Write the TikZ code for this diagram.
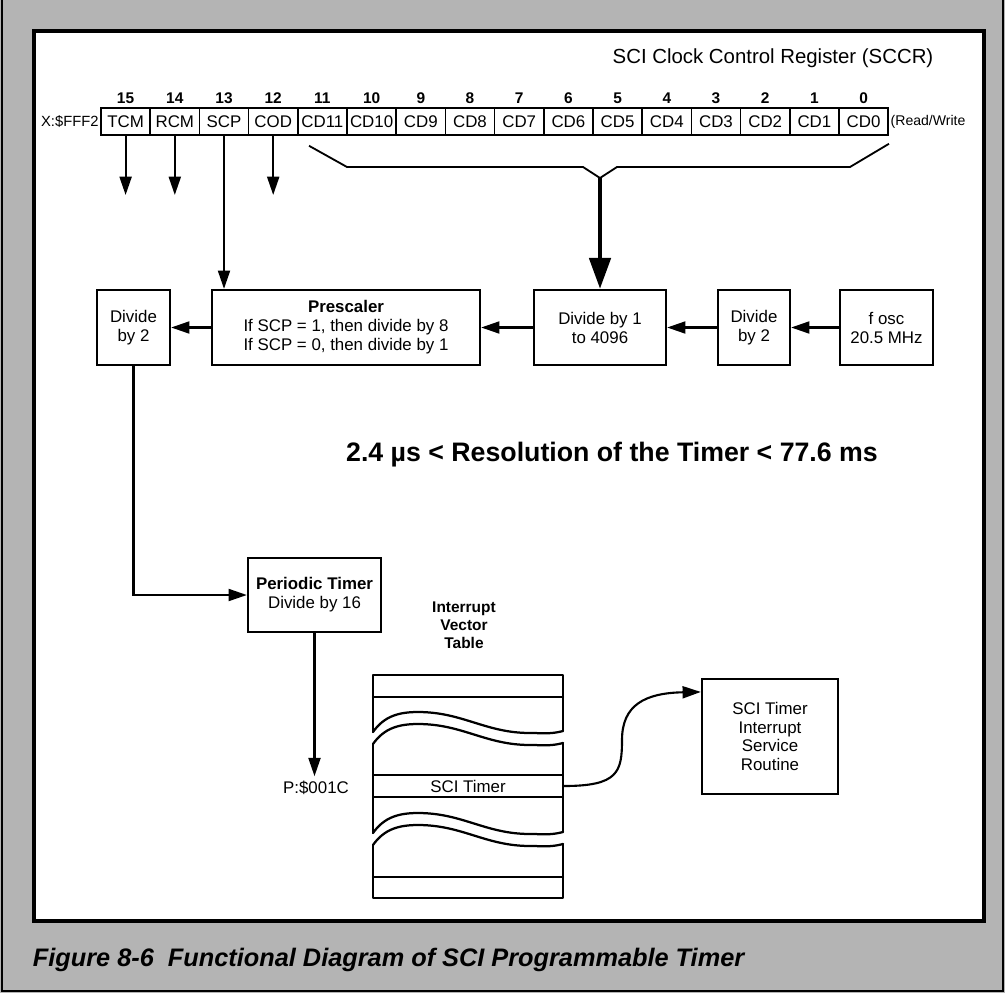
\documentclass[tikz,border=0pt]{standalone}
\usepackage{fontspec}
\setmainfont{Liberation Sans}
\usetikzlibrary{arrows.meta, positioning, calc}
\definecolor{framegray}{RGB}{180,180,180}

\begin{document}
\begin{tikzpicture}[
    x=0.025cm, y=-0.025cm,
    node distance=2pt,
    regbit/.style={draw, line width=1.1pt, minimum width=1.23cm, minimum height=0.675cm, inner sep=0pt, font=\fontsize{12}{14}\selectfont},
    bitnum/.style={inner sep=0pt, anchor=base, font=\bfseries\fontsize{11}{13}\selectfont},
    blk/.style={draw, line width=1.6pt, minimum height=1.875cm, align=center, inner sep=1pt, font=\fontsize{12}{13.5}\selectfont},
    arr/.style={line width=1.5pt, -{Triangle[length=13pt,width=8.5pt]}},
    bigarr/.style={line width=3.2pt, -{Triangle[length=22pt,width=15pt]}},
    vtab/.style={line width=1.6pt, line join=round, line cap=round},
    vwave/.pic={\draw[vtab] (373,20) to[out=55,in=180] (418,0) to[out=0,in=180] (530,21) to[out=0,in=195] (563,19);},
]
    \useasboundingbox (0,0) rectangle (1005,993);
    % page frame
    \fill[framegray] (0,0) rectangle (1005,993);
    \draw[line width=1.5pt] (2,0) -- (2,991) -- (1003,991) -- (1003,0);
    \filldraw[fill=white, line width=2.4pt] (34,31) rectangle (984,921);

    % SCCR register
    \node[anchor=base] (sccr) at (773,63) {\fontsize{14.5}{16}\selectfont SCI Clock Control Register (SCCR)};
    \foreach \lbl [count=\k from 0] in {TCM,RCM,SCP,COD,CD11,CD10,CD9,CD8,CD7,CD6,CD5,CD4,CD3,CD2,CD1,CD0} {
        \pgfmathtruncatemacro{\bit}{15-\k}
        \node[regbit] (b\bit) at ({125.6+49.2*\k},121.5) {\lbl};
        \node[bitnum] at ($(b\bit.north)+(0,-4)$) {\bit};
    }
    \node[left=1pt of b15, inner sep=0pt, font=\fontsize{10.5}{12}\selectfont] (addr) {X:\$FFF2};
    \node[right=1pt of b0, inner sep=0pt, font=\fontsize{10}{12}\selectfont] (rw) {(Read/Write};

    \coordinate (ctlout) at (0,195);
    \foreach \b in {15,14,12} \draw[arr] (b\b.south) -- (b\b.south |- ctlout);

    \coordinate (brtip) at (600,178);
    \draw[line width=1.3pt, line join=round] ($(b11.south west)+(12,10)$) -- (347,167) -- (583,167) -- (brtip) -- (617,167) -- (850,167) -- ($(b0.south east)+(0,8)$);

    % clock chain
    \node[blk, minimum width=2.325cm] (fosc) at (886.5,327.5) {f osc\\20.5 MHz};
    \node[blk, minimum width=1.8cm] (div2r) at (754,327.5) {Divide\\by 2};
    \node[blk, minimum width=3.3cm] (divn) at (600,327.5) {Divide by 1\\to 4096};
    \node[blk, minimum width=6.7cm] (presc) at (346,327.5) {\textbf{Prescaler}\\If SCP = 1, then divide by 8\\If SCP = 0, then divide by 1};
    \node[blk, minimum width=1.825cm] (div2l) at (133.5,327.5) {Divide\\by 2};

    \draw[bigarr] (brtip) -- (divn.north);
    \draw[arr] (b13.south) -- (b13.south |- presc.north);
    \draw[arr] (fosc) -- (div2r);
    \draw[arr] (div2r) -- (divn);
    \draw[arr] (divn) -- (presc);
    \draw[arr] (presc) -- (div2l);

    \node[font=\bfseries\fontsize{19}{22}\selectfont] (res) at (612,455) {2.4 µs < Resolution of the Timer < 77.6 ms};

    % periodic timer
    \node[blk, minimum width=3.325cm, minimum height=1.85cm] (ptimer) at (314.5,595) {\textbf{Periodic Timer}\\Divide by 16};
    \draw[arr] (div2l.south) |- (ptimer.west);
    \node[font=\fontsize{12}{14}\selectfont] (pvec) at (316,788) {P:\$001C};
    \draw[arr] (ptimer.south) -- (ptimer.south |- pvec.north);

    % interrupt vector table
    \node[font=\bfseries\fontsize{11}{12.8}\selectfont, align=center] (vhead) at (464,625) {Interrupt\\Vector\\Table};
    \draw[vtab] (373,732) -- (373,675) -- (563,675) -- (563,731);
    \draw[vtab] (373,697) -- (563,697);
    \pic at (0,712) {vwave};
    \pic at (0,724) {vwave};
    \draw[vtab] (373,744) -- (373,833);
    \draw[vtab] (563,743) -- (563,832);
    \node[draw, line width=1.6pt, minimum width=4.75cm, minimum height=0.55cm, inner sep=0pt, font=\fontsize{12}{14}\selectfont] (scirow) at (468,786) {SCI Timer};
    \pic at (0,813) {vwave};
    \pic at (0,825) {vwave};
    \draw[vtab] (373,845) -- (373,898) -- (563,898) -- (563,844);
    \draw[vtab] (373,877) -- (563,877);

    \node[blk, minimum width=3.4cm, minimum height=2.875cm, font=\fontsize{12}{13.2}\selectfont] (isr) at (770,736.5) {SCI Timer\\Interrupt\\Service\\Routine};
    \coordinate (isrin) at ($(isr.north west)!0.12!(isr.south west)$);
    \draw[arr] (scirow.east) .. controls (618,786) and (622,772) .. (622,740) .. controls (622,705) and (645,693) .. (isrin);

    \node[anchor=west, font=\bfseries\itshape\fontsize{18}{20}\selectfont] (cap) at (28,960) {Figure 8-6\ \ Functional Diagram of SCI Programmable Timer};
\end{tikzpicture}
\end{document}
